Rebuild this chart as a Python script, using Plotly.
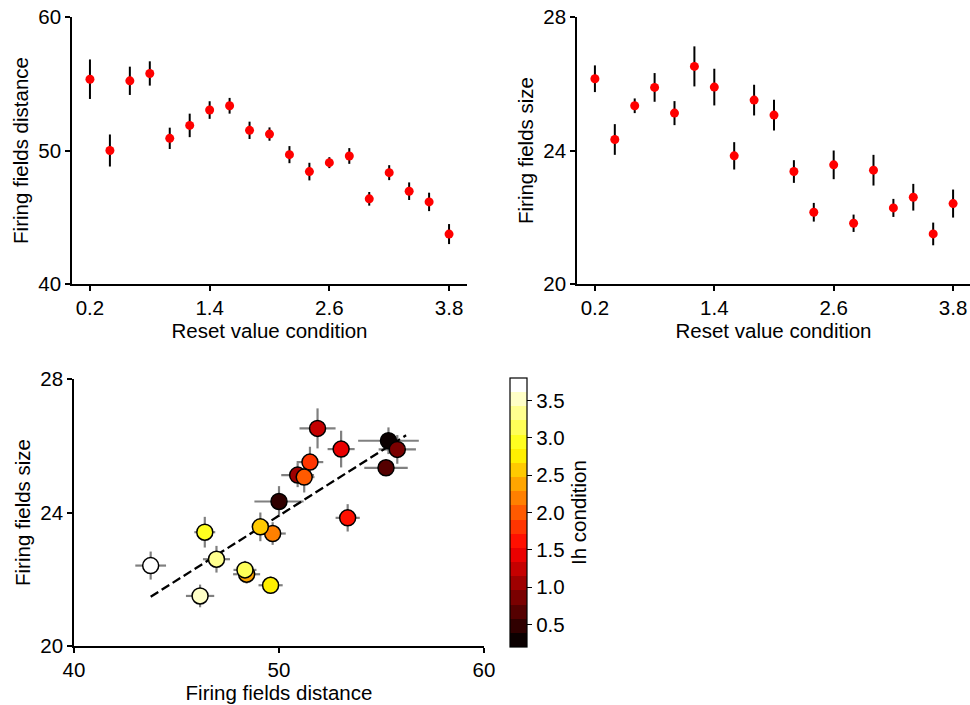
import numpy as np
import plotly.graph_objects as go

# ---------------- data ----------------
conditions = [0.2, 0.4, 0.6, 0.8, 1.0, 1.2, 1.4, 1.6, 1.8, 2.0,
              2.2, 2.4, 2.6, 2.8, 3.0, 3.2, 3.4, 3.6, 3.8]
dist_mean = [55.34, 50.00, 55.22, 55.77, 50.91, 51.88, 53.03, 53.35, 51.51, 51.23,
             49.69, 48.42, 49.09, 49.59, 46.38, 48.34, 46.95, 46.15, 43.74]
dist_err = [1.48, 1.20, 1.06, 0.91, 0.80, 0.88, 0.66, 0.59, 0.65, 0.50,
            0.64, 0.66, 0.41, 0.59, 0.51, 0.56, 0.66, 0.69, 0.75]
size_mean = [26.15, 24.33, 25.34, 25.89, 25.12, 26.52, 25.90, 23.84, 25.51, 25.06,
             23.37, 22.15, 23.57, 21.82, 23.41, 22.28, 22.60, 21.50, 22.41]
size_err = [0.40, 0.46, 0.22, 0.43, 0.36, 0.60, 0.55, 0.41, 0.46, 0.46,
            0.34, 0.28, 0.43, 0.26, 0.46, 0.27, 0.40, 0.34, 0.42]
fit_x_ends = [43.74, 56.2]

cond_ticks = [0.2, 1.4, 2.6, 3.8]
dist_ticks = [40, 50, 60]
size_ticks = [20, 24, 28]
cbar_ticks = [0.5, 1.0, 1.5, 2.0, 2.5, 3.0, 3.5]

# ---------------- helpers ----------------
W, H = 970, 705
FONT = "Liberation Sans, Arial, sans-serif"
TICK_FS = 20.5
TITLE_FS = 20.5


def hot(t):
    r = min(1.0, 0.0416 + t * (1 - 0.0416) / 0.365079)
    g = min(1.0, max(0.0, (t - 0.365079) / (0.746032 - 0.365079)))
    b = min(1.0, max(0.0, (t - 0.746032) / (1 - 0.746032)))
    return "rgb(%d,%d,%d)" % (round(r * 255), round(g * 255), round(b * 255))


n = len(conditions)
colorscale = []
for k in range(n):
    c = hot(k / (n - 1))
    colorscale.append([k / n, c])
    colorscale.append([(k + 1) / n, c])

slope, intercept = np.polyfit(dist_mean, size_mean, 1)
fit_y = [slope * x + intercept for x in fit_x_ends]


def px_x(p):
    return p / W


def px_y(p):
    return 1 - p / H


def tickfont():
    return dict(family=FONT, size=TICK_FS, color="black")


def titlefont():
    return dict(family=FONT, size=TITLE_FS, color="black")


fig = go.Figure()

# top-left
fig.add_trace(go.Scatter(
    x=conditions, y=dist_mean, mode="markers",
    marker=dict(color="red", size=9),
    error_y=dict(type="data", array=dist_err, color="black", thickness=2, width=0),
    xaxis="x", yaxis="y", showlegend=False))

# top-right
fig.add_trace(go.Scatter(
    x=conditions, y=size_mean, mode="markers",
    marker=dict(color="red", size=9),
    error_y=dict(type="data", array=size_err, color="black", thickness=2, width=0),
    xaxis="x2", yaxis="y2", showlegend=False))

# bottom: error bars
fig.add_trace(go.Scatter(
    x=dist_mean, y=size_mean, mode="markers",
    marker=dict(size=1, opacity=0),
    error_x=dict(type="data", array=dist_err, color="rgb(128,128,128)", thickness=2.2, width=0),
    error_y=dict(type="data", array=size_err, color="rgb(128,128,128)", thickness=2.2, width=0),
    xaxis="x3", yaxis="y3", showlegend=False, hoverinfo="skip"))

# bottom: fit line
fig.add_trace(go.Scatter(
    x=fit_x_ends, y=fit_y, mode="lines",
    line=dict(color="black", width=2.3, dash="9px,4px"),
    xaxis="x3", yaxis="y3", showlegend=False))

# bottom: colored markers
fig.add_trace(go.Scatter(
    x=dist_mean, y=size_mean, mode="markers",
    marker=dict(
        size=16, color=conditions, colorscale=colorscale, cmin=0.2, cmax=3.8,
        line=dict(color="black", width=1.5),
        showscale=True,
        colorbar=dict(
            thickness=17, thicknessmode="pixels",
            len=269, lenmode="pixels",
            x=px_x(510), xanchor="left", xpad=0,
            y=px_y(512.5), yanchor="middle", ypad=0,
            outlinecolor="black", outlinewidth=1.2,
            tickvals=cbar_ticks, ticktext=["%.1f" % v for v in cbar_ticks],
            ticks="outside", ticklen=5, tickwidth=1.2, tickcolor="black",
            tickfont=tickfont(),
            title=dict(text="Ih condition", side="right", font=titlefont()),
        ),
    ),
    xaxis="x3", yaxis="y3", showlegend=False))

axis_common = dict(
    showgrid=False, zeroline=False, showline=True, linecolor="black", linewidth=1.5,
    ticks="outside", ticklen=5, tickwidth=1.5, tickcolor="black",
    tickfont=tickfont(), mirror=False, automargin=False,
)

fig.update_layout(
    width=W, height=H,
    margin=dict(l=0, r=0, t=0, b=0, autoexpand=False),
    paper_bgcolor="white", plot_bgcolor="white",
    font=dict(family=FONT, size=TICK_FS, color="black"),
    xaxis=dict(**axis_common, domain=[px_x(72), px_x(467)], range=[0.02, 3.98],
               tickvals=cond_ticks, ticktext=["%.1f" % v for v in cond_ticks],
               anchor="y", title=dict(text="Reset value condition", font=titlefont(), standoff=2)),
    yaxis=dict(**axis_common, domain=[px_y(284), px_y(17)], range=[40, 60],
               tickvals=dist_ticks, anchor="x",
               title=dict(text="Firing fields distance", font=titlefont(), standoff=4)),
    xaxis2=dict(**axis_common, domain=[px_x(577), 1.0], range=[0.02, 3.97],
                tickvals=cond_ticks, ticktext=["%.1f" % v for v in cond_ticks],
                anchor="y2", title=dict(text="Reset value condition", font=titlefont(), standoff=2)),
    yaxis2=dict(**axis_common, domain=[px_y(284), px_y(17)], range=[20, 28],
                tickvals=size_ticks, anchor="x2",
                title=dict(text="Firing fields size", font=titlefont(), standoff=4)),
    xaxis3=dict(**axis_common, domain=[px_x(74), px_x(484)], range=[40, 60],
                tickvals=dist_ticks, anchor="y3",
                title=dict(text="Firing fields distance", font=titlefont(), standoff=2)),
    yaxis3=dict(**axis_common, domain=[px_y(646), px_y(379)], range=[20, 28],
                tickvals=size_ticks, anchor="x3",
                title=dict(text="Firing fields size", font=titlefont(), standoff=4)),
)

fig.write_html("out.html")
